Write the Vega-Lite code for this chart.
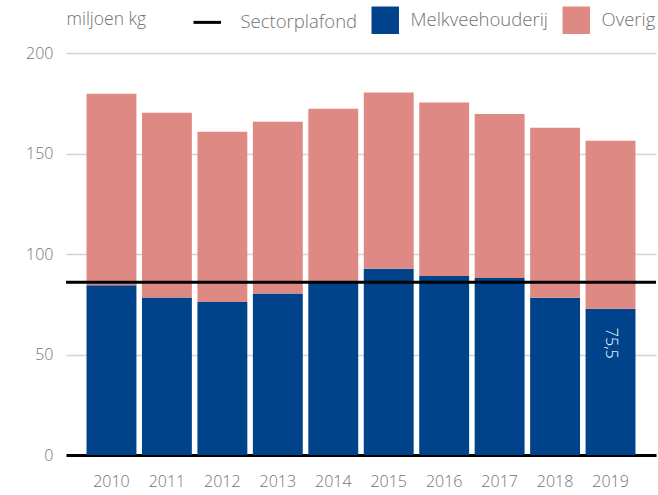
{
  "$schema": "https://vega.github.io/schema/vega-lite/v6.json",
  "width": 590,
  "height": 402,
  "autosize": {"type": "none"},
  "padding": {"left": 66, "top": 53, "right": 2, "bottom": 40},
  "background": "white",
  "config": {
    "font": "Open Sans",
    "view": {"stroke": null}
  },
  "datasets": {
    "productie": [
      {"jaar": "2010", "reeks": "Melkveehouderij", "waarde": 84.4},
      {"jaar": "2010", "reeks": "Overig", "waarde": 95.3},
      {"jaar": "2011", "reeks": "Melkveehouderij", "waarde": 78.4},
      {"jaar": "2011", "reeks": "Overig", "waarde": 91.9},
      {"jaar": "2012", "reeks": "Melkveehouderij", "waarde": 76.1},
      {"jaar": "2012", "reeks": "Overig", "waarde": 84.7},
      {"jaar": "2013", "reeks": "Melkveehouderij", "waarde": 80.4},
      {"jaar": "2013", "reeks": "Overig", "waarde": 85.4},
      {"jaar": "2014", "reeks": "Melkveehouderij", "waarde": 85.6},
      {"jaar": "2014", "reeks": "Overig", "waarde": 86.7},
      {"jaar": "2015", "reeks": "Melkveehouderij", "waarde": 92.6},
      {"jaar": "2015", "reeks": "Overig", "waarde": 87.8},
      {"jaar": "2016", "reeks": "Melkveehouderij", "waarde": 89.1},
      {"jaar": "2016", "reeks": "Overig", "waarde": 86.3},
      {"jaar": "2017", "reeks": "Melkveehouderij", "waarde": 88.1},
      {"jaar": "2017", "reeks": "Overig", "waarde": 81.5},
      {"jaar": "2018", "reeks": "Melkveehouderij", "waarde": 78.2},
      {"jaar": "2018", "reeks": "Overig", "waarde": 84.6},
      {"jaar": "2019", "reeks": "Melkveehouderij", "waarde": 72.7, "label": "75,5"},
      {"jaar": "2019", "reeks": "Overig", "waarde": 83.7}
    ],
    "plafond": [
      {"reeks": "Sectorplafond", "waarde": 86}
    ]
  },
  "layer": [
    {
      "data": {"name": "productie"},
      "mark": {"type": "bar"},
      "encoding": {
        "x": {
          "field": "jaar",
          "type": "ordinal",
          "scale": {"paddingInner": 0.1, "paddingOuter": 0.37},
          "axis": {
            "title": null,
            "labelAngle": 0,
            "labelFontSize": 16,
            "labelFontWeight": 300,
            "labelColor": "#727272",
            "ticks": false,
            "domain": true,
            "domainColor": "#000000",
            "domainWidth": 3,
            "labelPadding": 18,
            "grid": false
          }
        },
        "y": {
          "field": "waarde",
          "type": "quantitative",
          "stack": "zero",
          "scale": {"domain": [0, 200], "nice": false},
          "axis": {
            "values": [0, 50, 100, 150, 200],
            "title": "miljoen kg",
            "titleAngle": 0,
            "titleAlign": "left",
            "titleX": 0,
            "titleY": -34,
            "titleBaseline": "middle",
            "titleFontSize": 17.5,
            "titleFontWeight": 300,
            "titleColor": "#727272",
            "labelFontSize": 16,
            "labelFontWeight": 300,
            "labelColor": "#727272",
            "labelPadding": 13,
            "ticks": false,
            "domain": false,
            "grid": true,
            "gridColor": "#d4d4d4",
            "gridWidth": 1.5
          }
        },
        "color": {
          "field": "reeks",
          "type": "nominal",
          "scale": {
            "domain": ["Sectorplafond", "Melkveehouderij", "Overig"],
            "range": ["#000000", "#00438A", "#DF8984"]
          },
          "legend": {
            "orient": "none",
            "legendX": 132,
            "legendY": -42,
            "direction": "horizontal",
            "title": null,
            "padding": 0,
            "symbolSize": 756,
            "labelFontSize": 18.5,
            "labelFontWeight": 300,
            "labelColor": "#727272",
            "labelOffset": 16,
            "columnPadding": 13,
            "symbolOpacity": 1,
            "encode": {
              "symbols": {
                "update": {
                  "shape": {"signal": "datum.value === 'Sectorplafond' ? 'stroke' : 'square'"},
                  "strokeWidth": {"signal": "datum.value === 'Sectorplafond' ? 3 : 0"},
                  "stroke": {"signal": "datum.value === 'Sectorplafond' ? '#000000' : 'transparent'"},
                  "fill": {"scale": "color", "field": "value"},
                  "opacity": {"value": 1}
                }
              },
              "labels": {
                "update": {
                  "dx": {"signal": "datum.value === 'Sectorplafond' ? 8 : 0"}
                }
              }
            }
          }
        },
        "order": {"field": "reeks", "sort": "ascending"}
      }
    },
    {
      "data": {"name": "plafond"},
      "mark": {"type": "rule", "strokeWidth": 3},
      "encoding": {
        "y": {"field": "waarde", "type": "quantitative"},
        "color": {"field": "reeks", "type": "nominal"}
      }
    },
    {
      "data": {"name": "productie"},
      "transform": [{"filter": "datum.label != null"}],
      "mark": {
        "type": "text",
        "angle": 90,
        "align": "left",
        "baseline": "middle",
        "dx": 19,
        "color": "#ffffff",
        "fontSize": 16,
        "fontWeight": 300
      },
      "encoding": {
        "x": {"field": "jaar", "type": "ordinal"},
        "y": {"field": "waarde", "type": "quantitative"},
        "text": {"field": "label"}
      }
    }
  ]
}
